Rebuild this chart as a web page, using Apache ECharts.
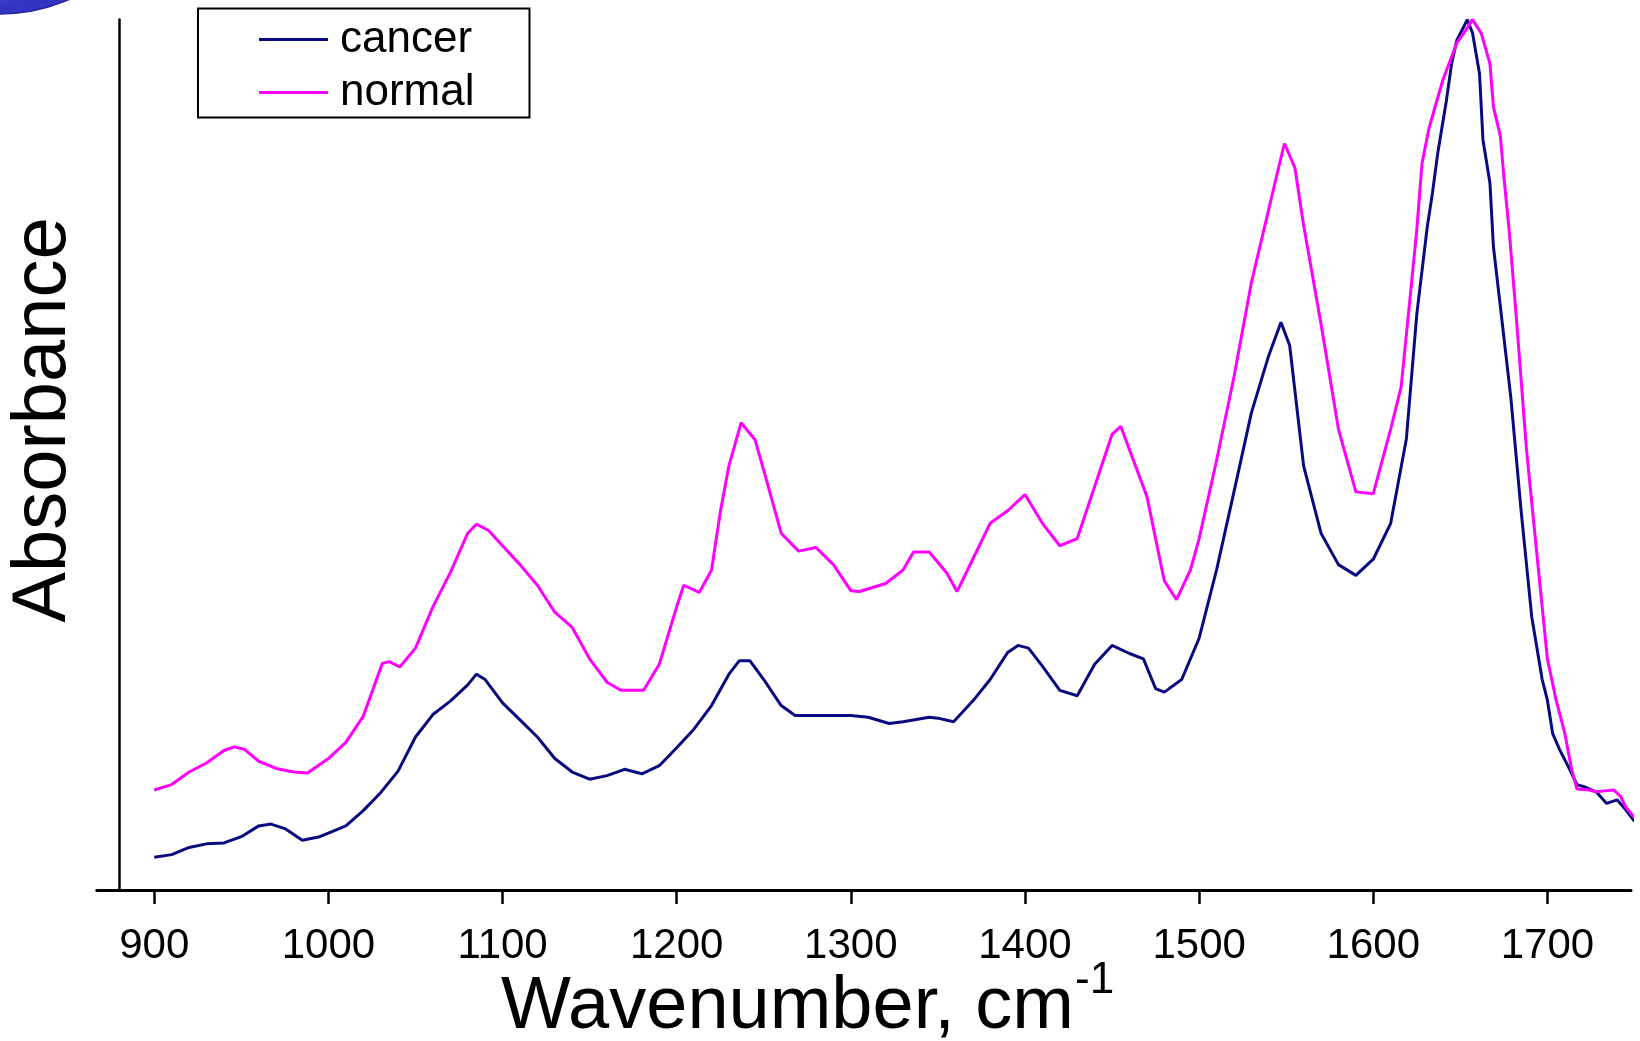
<!DOCTYPE html>
<html>
<head>
<meta charset="utf-8">
<script src="https://cdn.jsdelivr.net/npm/echarts@6/dist/echarts.min.js"></script>
<style>
html,body{margin:0;padding:0;background:#fff;}
#chart{width:1640px;height:1041px;}
</style>
</head>
<body>
<div id="chart"></div>
<script>
// ---- data (arbitrary absorbance units) ----
const xTickValues = [900, 1000, 1100, 1200, 1300, 1400, 1500, 1600, 1700];

const cancerWavenumber = [900,910,920,930,940,950,960,967,975,985,995,1000,1010,1020,1030,1040,1050,1060,1070,1080,1085,1090,1100,1110,1120,1130,1140,1150,1160,1170,1180,1190,1200,1210,1220,1230,1236,1242,1250,1260,1268,1280,1300,1310,1322,1330,1345,1350,1359,1370,1380,1390,1396,1402,1410,1420,1430,1440,1450,1460,1468,1475,1480,1490,1500,1510,1520,1530,1540,1547,1552,1560,1570,1580,1590,1600,1610,1619,1625,1631,1634,1637,1642,1645,1648,1654,1657,1661,1663,1667,1669,1673,1679,1685,1691,1697,1700,1703,1707,1712,1717,1722,1728,1734,1740,1745,1750];
const cancerAbsorbance = [0.067,0.070,0.078,0.082,0.083,0.090,0.102,0.104,0.099,0.086,0.090,0.094,0.102,0.119,0.139,0.163,0.201,0.226,0.241,0.259,0.271,0.265,0.239,0.220,0.201,0.177,0.162,0.154,0.158,0.165,0.160,0.169,0.189,0.210,0.236,0.271,0.286,0.286,0.265,0.236,0.225,0.225,0.225,0.223,0.216,0.218,0.223,0.222,0.218,0.241,0.265,0.295,0.303,0.300,0.280,0.253,0.247,0.282,0.303,0.294,0.288,0.255,0.251,0.265,0.311,0.387,0.474,0.562,0.626,0.663,0.637,0.503,0.428,0.393,0.381,0.399,0.439,0.533,0.672,0.769,0.807,0.851,0.910,0.951,0.977,1.000,0.985,0.940,0.866,0.818,0.747,0.680,0.579,0.451,0.335,0.265,0.242,0.205,0.187,0.168,0.148,0.145,0.140,0.127,0.131,0.120,0.107];

const normalWavenumber = [900,910,920,930,940,946,952,960,970,980,988,1000,1010,1020,1031,1035,1041,1050,1060,1070,1080,1085,1092,1100,1110,1120,1130,1140,1150,1160,1168,1181,1190,1200,1204,1213,1220,1225,1230,1237,1245,1250,1260,1270,1280,1290,1300,1305,1320,1330,1336,1345,1355,1361,1370,1380,1390,1400,1410,1420,1430,1440,1450,1455,1460,1470,1480,1487,1495,1500,1510,1520,1530,1540,1545,1549,1555,1560,1570,1580,1590,1600,1610,1616,1622,1625,1628,1632,1640,1648,1652,1657,1662,1667,1669,1673,1675,1678,1682,1688,1694,1700,1705,1710,1714,1717,1724,1728,1733,1738,1742,1745,1750];
const normalAbsorbance = [0.142,0.148,0.162,0.172,0.186,0.190,0.187,0.174,0.166,0.162,0.161,0.177,0.195,0.224,0.283,0.285,0.279,0.300,0.346,0.384,0.428,0.438,0.431,0.414,0.393,0.370,0.340,0.323,0.288,0.262,0.253,0.253,0.282,0.346,0.370,0.362,0.387,0.451,0.503,0.551,0.532,0.498,0.428,0.408,0.412,0.393,0.364,0.363,0.372,0.387,0.407,0.407,0.384,0.363,0.399,0.439,0.453,0.471,0.439,0.414,0.422,0.480,0.538,0.547,0.521,0.469,0.375,0.354,0.387,0.422,0.509,0.602,0.707,0.789,0.830,0.862,0.835,0.771,0.661,0.544,0.474,0.472,0.544,0.591,0.707,0.766,0.840,0.879,0.933,0.974,0.985,1.000,0.985,0.951,0.903,0.870,0.825,0.766,0.672,0.521,0.404,0.288,0.242,0.205,0.164,0.143,0.142,0.140,0.141,0.142,0.135,0.123,0.111];

function pairs(xs, ys) { return xs.map(function (x, i) { return [x, ys[i]]; }); }

const FONT = '"Liberation Sans", Arial, Helvetica, sans-serif';

const chart = echarts.init(document.getElementById('chart'), null, {renderer: 'canvas'});
chart.setOption({
  animation: false,
  backgroundColor: '#ffffff',
  grid: {left: 96.8, right: 9, top: 19.6, bottom: 151, containLabel: false},
  title: {
    text: '{a|Wavenumber, cm}{b|-1}',
    left: 501, top: 959, padding: 0,
    textStyle: {
      fontWeight: 'normal',
      rich: {
        a: {fontSize: 74, lineHeight: 86, fontWeight: 'normal', fontFamily: FONT, color: '#000', verticalAlign: 'bottom'},
        b: {fontSize: 44, lineHeight: 44, fontWeight: 'normal', fontFamily: FONT, color: '#000', verticalAlign: 'top', padding: [0, 0, 0, 1]}
      }
    }
  },
  legend: {
    left: 198, top: 8.4, orient: 'vertical',
    icon: 'rect', itemWidth: 69, itemHeight: 3, itemGap: 9,
    padding: [9, 55, 3, 61],
    borderColor: '#000', borderWidth: 2, backgroundColor: '#fff',
    textStyle: {fontSize: 44, fontFamily: FONT, color: '#000', padding: [0, 0, 0, 7]},
    data: ['cancer', 'normal']
  },
  xAxis: {
    type: 'value', min: 867, max: 1748,
    axisLine: {show: true, lineStyle: {color: '#000', width: 3}},
    axisTick: {show: true, customValues: xTickValues, length: 14, inside: false, lineStyle: {color: '#000', width: 2.5}},
    axisLabel: {show: true, customValues: xTickValues, fontSize: 42, fontFamily: FONT, color: '#000', margin: 35,
      formatter: function (v) { return String(v); }},
    splitLine: {show: false}
  },
  yAxis: {
    type: 'value', min: 0.0306, max: 1, offset: -22.6,
    axisLine: {show: true, onZero: false, lineStyle: {color: '#000', width: 2.5}},
    axisTick: {show: false}, axisLabel: {show: false}, splitLine: {show: false}
  },
  graphic: [
    {
      type: 'circle', z: 100, silent: true,
      shape: {cx: 0, cy: -158, r: 172},
      style: {
        fill: new echarts.graphic.RadialGradient(0.35, 0.35, 0.65, [
          {offset: 0, color: '#9a9aff'},
          {offset: 0.85, color: '#5656ea'},
          {offset: 1, color: '#3434c4'}
        ]),
        stroke: '#22229a', lineWidth: 1.5
      }
    },
    {
      type: 'text', x: 44, y: 420, rotation: Math.PI / 2, silent: true,
      style: {text: 'Absorbance', fontSize: 76, fontFamily: FONT, fill: '#000', textAlign: 'center', textVerticalAlign: 'middle'}
    }
  ],
  series: [
    {
      name: 'cancer', type: 'line', data: pairs(cancerWavenumber, cancerAbsorbance),
      symbol: 'none', showSymbol: false, smooth: false,
      lineStyle: {color: '#0a0a80', width: 3}, itemStyle: {color: '#0a0a80'}
    },
    {
      name: 'normal', type: 'line', data: pairs(normalWavenumber, normalAbsorbance),
      symbol: 'none', showSymbol: false, smooth: false,
      lineStyle: {color: '#ff00ff', width: 3}, itemStyle: {color: '#ff00ff'}
    }
  ]
});
</script>
</body>
</html>
